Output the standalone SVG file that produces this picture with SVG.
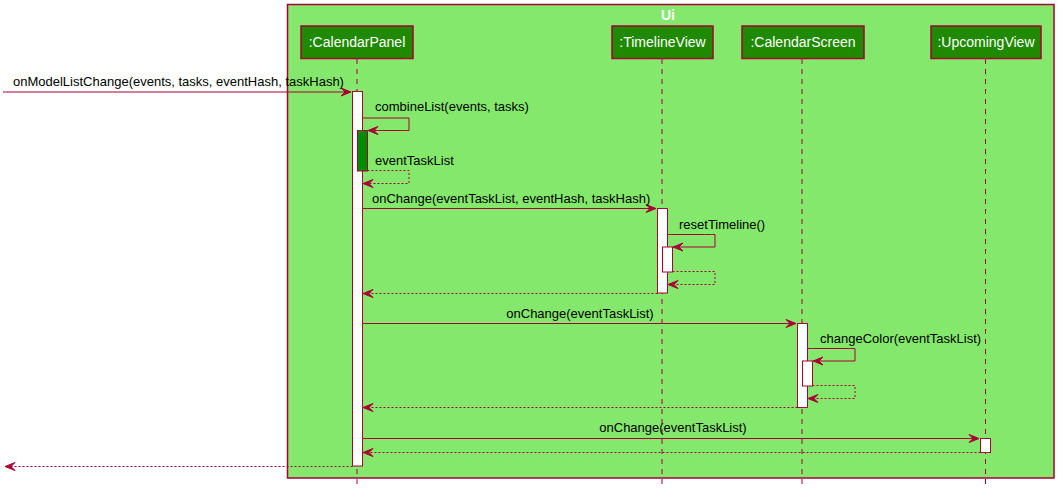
<svg xmlns="http://www.w3.org/2000/svg" width="1064" height="495" viewBox="0 0 1064 495">
<defs>
<style>
.ll{stroke:#A80036;stroke-width:1;stroke-dasharray:5,5;fill:none}
.pbox{fill:#1F8A00;stroke:#A80036;stroke-width:1.5}
.ptxt{font-family:"Liberation Sans",Arial,sans-serif;font-size:14px;fill:#FFFFFF}
.act{fill:#FFFFFF;stroke:#A80036;stroke-width:1}
.msg{stroke:#A80036;stroke-width:1;fill:none}
.ret{stroke:#A80036;stroke-width:1;fill:none;stroke-dasharray:2,2}
.mtxt{font-family:"Liberation Sans",Arial,sans-serif;font-size:13px;fill:#000000}
.ah{fill:#A80036;stroke:#A80036;stroke-width:1}
</style>
</defs>
<rect width="1064" height="495" fill="#FFFFFF"/>
<g id="ui-box">
<rect x="287.5" y="4.5" width="766.5" height="473.5" fill="#84E86C" stroke="#A80036" stroke-width="1.5"/>
<text x="668" y="20" text-anchor="middle" font-family="Liberation Sans,Arial,sans-serif" font-size="14" font-weight="bold" fill="#FFFFFF">Ui</text>
</g>
<g id="lifelines">
<line class="ll" x1="357" y1="59" x2="357" y2="486"/>
<line class="ll" x1="662" y1="59" x2="662" y2="486"/>
<line class="ll" x1="802" y1="59" x2="802" y2="486"/>
<line class="ll" x1="985.5" y1="59" x2="985.5" y2="486"/>
</g>
<g id="CalendarPanel">
<rect class="pbox" x="301" y="26" width="112" height="32.5"/>
<text class="ptxt" x="357" y="47" text-anchor="middle">:CalendarPanel</text>
</g>
<g id="TimelineView">
<rect class="pbox" x="612" y="26" width="101" height="32.5"/>
<text class="ptxt" x="662.5" y="47" text-anchor="middle">:TimelineView</text>
</g>
<g id="CalendarScreen">
<rect class="pbox" x="742" y="26" width="122" height="32.5"/>
<text class="ptxt" x="803" y="47" text-anchor="middle">:CalendarScreen</text>
</g>
<g id="UpcomingView">
<rect class="pbox" x="931" y="26" width="110" height="32.5"/>
<text class="ptxt" x="986" y="47" text-anchor="middle">:UpcomingView</text>
</g>
<g id="activations">
<rect class="act" x="352.5" y="91.5" width="10" height="374.5"/>
<rect x="357.5" y="130.5" width="10" height="40.5" fill="#008C00" stroke="#A80036" stroke-width="1"/>
<rect class="act" x="657.5" y="208.5" width="10" height="84.5"/>
<rect class="act" x="662.5" y="247" width="10" height="25"/>
<rect class="act" x="797.5" y="323.5" width="10" height="84"/>
<rect class="act" x="802.5" y="361" width="10" height="25"/>
<rect class="act" x="980.5" y="438.5" width="10" height="14"/>
</g>
<g id="connectors">
<line class="msg" x1="3" y1="92" x2="350" y2="92"/>
<polygon class="ah" points="341,88 351,92 341,96 345,92"/>
<text class="mtxt" x="13" y="86">onModelListChange(events, tasks, eventHash, taskHash)</text>

<polyline class="msg" points="362.5,118 409,118 409,130.5 369,130.5"/>
<polygon class="ah" points="378,126.5 368,130.5 378,134.5 374,130.5"/>
<text class="mtxt" x="375" y="111">combineList(events, tasks)</text>

<polyline class="ret" points="367.5,170.5 409,170.5 409,183.5 364,183.5"/>
<polygon class="ah" points="373,179.5 363,183.5 373,187.5 369,183.5"/>
<text class="mtxt" x="375" y="165">eventTaskList</text>

<line class="msg" x1="362.5" y1="208.5" x2="655" y2="208.5"/>
<polygon class="ah" points="646,204.5 656,208.5 646,212.5 650,208.5"/>
<text class="mtxt" x="372" y="203">onChange(eventTaskList, eventHash, taskHash)</text>

<polyline class="msg" points="667.5,234.5 715,234.5 715,247 674,247"/>
<polygon class="ah" points="683,243 673,247 683,251 679,247"/>
<text class="mtxt" x="679" y="229">resetTimeline()</text>

<polyline class="ret" points="672.5,271.5 715,271.5 715,284.5 669,284.5"/>
<polygon class="ah" points="678,280.5 668,284.5 678,288.5 674,284.5"/>

<line class="ret" x1="657.5" y1="293.5" x2="364" y2="293.5"/>
<polygon class="ah" points="373,289.5 363,293.5 373,297.5 369,293.5"/>

<line class="msg" x1="362.5" y1="323.5" x2="795" y2="323.5"/>
<polygon class="ah" points="786,319.5 796,323.5 786,327.5 790,323.5"/>
<text class="mtxt" x="580" y="318" text-anchor="middle">onChange(eventTaskList)</text>

<polyline class="msg" points="807.5,348.5 855,348.5 855,361 814,361"/>
<polygon class="ah" points="823,357 813,361 823,365 819,361"/>
<text class="mtxt" x="820" y="343">changeColor(eventTaskList)</text>

<polyline class="ret" points="812.5,385.5 855,385.5 855,398.5 809,398.5"/>
<polygon class="ah" points="818,394.5 808,398.5 818,402.5 814,398.5"/>

<line class="ret" x1="797.5" y1="407.5" x2="364" y2="407.5"/>
<polygon class="ah" points="373,403.5 363,407.5 373,411.5 369,407.5"/>

<line class="msg" x1="362.5" y1="438.5" x2="978" y2="438.5"/>
<polygon class="ah" points="969,434.5 979,438.5 969,442.5 973,438.5"/>
<text class="mtxt" x="673" y="432" text-anchor="middle">onChange(eventTaskList)</text>

<line class="ret" x1="980.5" y1="452.5" x2="364" y2="452.5"/>
<polygon class="ah" points="373,448.5 363,452.5 373,456.5 369,452.5"/>

<line class="ret" x1="352.5" y1="466.5" x2="6" y2="466.5"/>
<polygon class="ah" points="15,462.5 5,466.5 15,470.5 11,466.5"/>
</g>
</svg>
